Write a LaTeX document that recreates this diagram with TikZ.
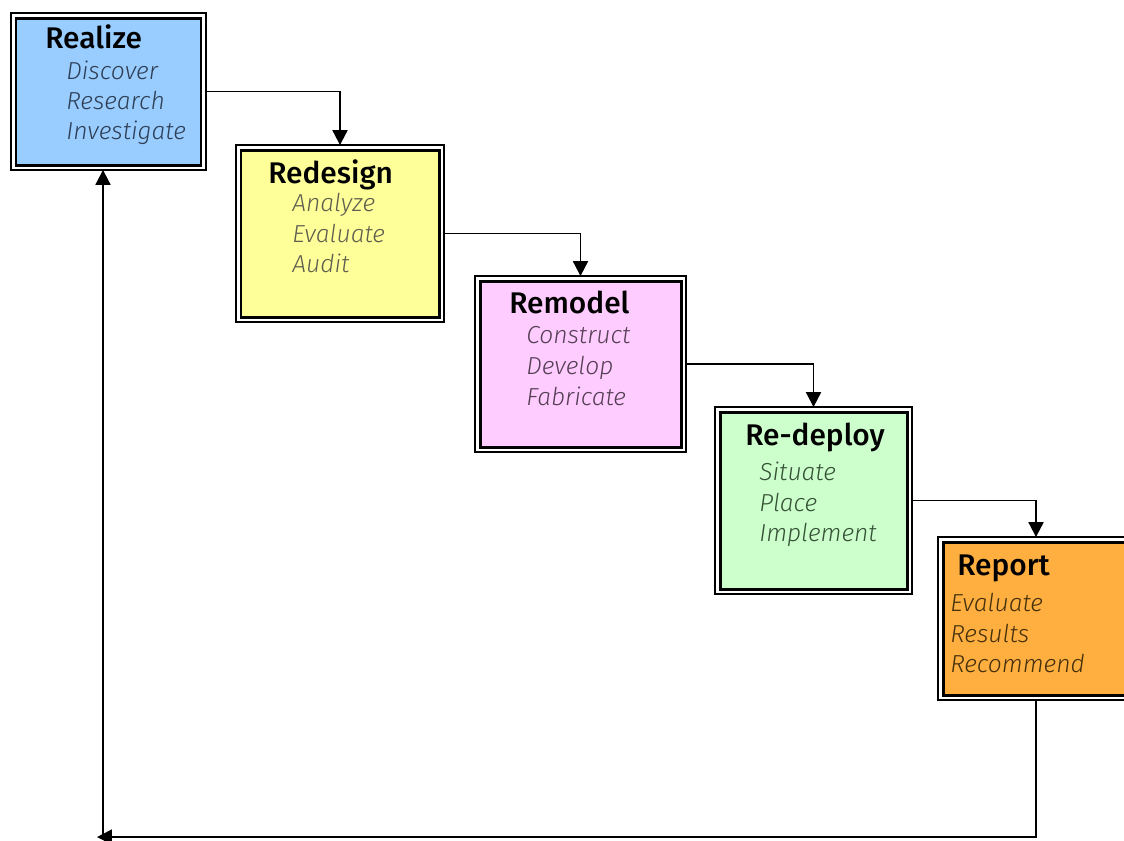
\documentclass[tikz,border=0pt]{standalone}
\usepackage{fontspec}
\setmainfont{Fira Sans}[BoldFont={Fira Sans Medium}, ItalicFont={Fira Sans Light Italic}]
\usetikzlibrary{arrows.meta, fit}

\definecolor{realizeFill}{HTML}{99CCFF}
\definecolor{redesignFill}{HTML}{FFFF99}
\definecolor{remodelFill}{HTML}{FFCCFF}
\definecolor{redeployFill}{HTML}{CCFFCC}
\definecolor{reportFill}{HTML}{FFAF40}
\definecolor{realizeText}{HTML}{2E3F55}
\definecolor{redesignText}{HTML}{5E5E50}
\definecolor{remodelText}{HTML}{553F55}
\definecolor{redeployText}{HTML}{365236}
\definecolor{reportText}{HTML}{45300C}

\tikzset{
  stage/.style={draw=black, line width=1.7pt, fill=#1, inner sep=0pt, outer sep=2.8pt},
  rim/.style={draw=black, line width=0.9pt},
  title/.style={anchor=base west, inner sep=0pt, font=\fontsize{17}{19}\selectfont\bfseries},
  item/.style={anchor=base west, inner sep=0pt, font=\fontsize{14}{15}\selectfont\itshape, text=#1},
  flow/.style={line width=1.1pt, -{Triangle[length=8.5pt,width=8.5pt]}},
}

\begin{document}
\begin{tikzpicture}[x=0.02cm, y=-0.02cm]
  \useasboundingbox (0,0) rectangle (1124,840);
  \clip (0,0) rectangle (1124,840);

  % stages
  \node[stage=realizeFill, fit={(16,18) (201,165)}] (realize) {};
  \node[stage=redesignFill, fit={(241,150) (439,317)}] (redesign) {};
  \node[stage=remodelFill, fit={(480,281) (681,447)}] (remodel) {};
  \node[stage=redeployFill, fit={(720,412) (907,589)}] (redeploy) {};
  \node[stage=reportFill, fit={(943,542) (1129,695)}] (report) {};
  \foreach \n in {realize,redesign,remodel,redeploy,report}
    \draw[rim] (\n.south west) rectangle (\n.north east);

  % labels
  \node[title] (realizeT) at (45,48) {Realize};
  \foreach \t [count=\i] in {Discover,Research,Investigate}
    \node[item=realizeText] (realize-\i) at (66,49+30*\i) {\t};

  \node[title] (redesignT) at (268,183) {Redesign};
  \foreach \t [count=\i] in {Analyze,Evaluate,Audit}
    \node[item=redesignText] (redesign-\i) at (292,181+30.5*\i) {\t};

  \node[title] (remodelT) at (509,313) {Remodel};
  \foreach \t [count=\i] in {Construct,Develop,Fabricate}
    \node[item=remodelText] (remodel-\i) at (526,312+31*\i) {\t};

  \node[title] (redeployT) at (745,445) {Re-deploy};
  \foreach \t [count=\i] in {Situate,Place,Implement}
    \node[item=redeployText] (redeploy-\i) at (759,450+30.5*\i) {\t};

  \node[title] (reportT) at (957,575) {Report};
  \foreach \t [count=\i] in {Evaluate,Results,Recommend}
    \node[item=reportText] (report-\i) at (950,581+30.5*\i) {\t};

  % flow
  \draw[flow] (realize.east) -| (redesign.north);
  \draw[flow] (redesign.east) -| (remodel.north);
  \draw[flow] (remodel.east) -| (redeploy.north);
  \draw[flow] (redeploy.east) -| (report.north);

  \coordinate (loopL) at (97,837);
  \coordinate (loopU) at (103,837);
  \draw[flow] (report.south) |- (loopL);
  \draw[flow] (loopU) -- (loopU |- realize.south);
\end{tikzpicture}
\end{document}
